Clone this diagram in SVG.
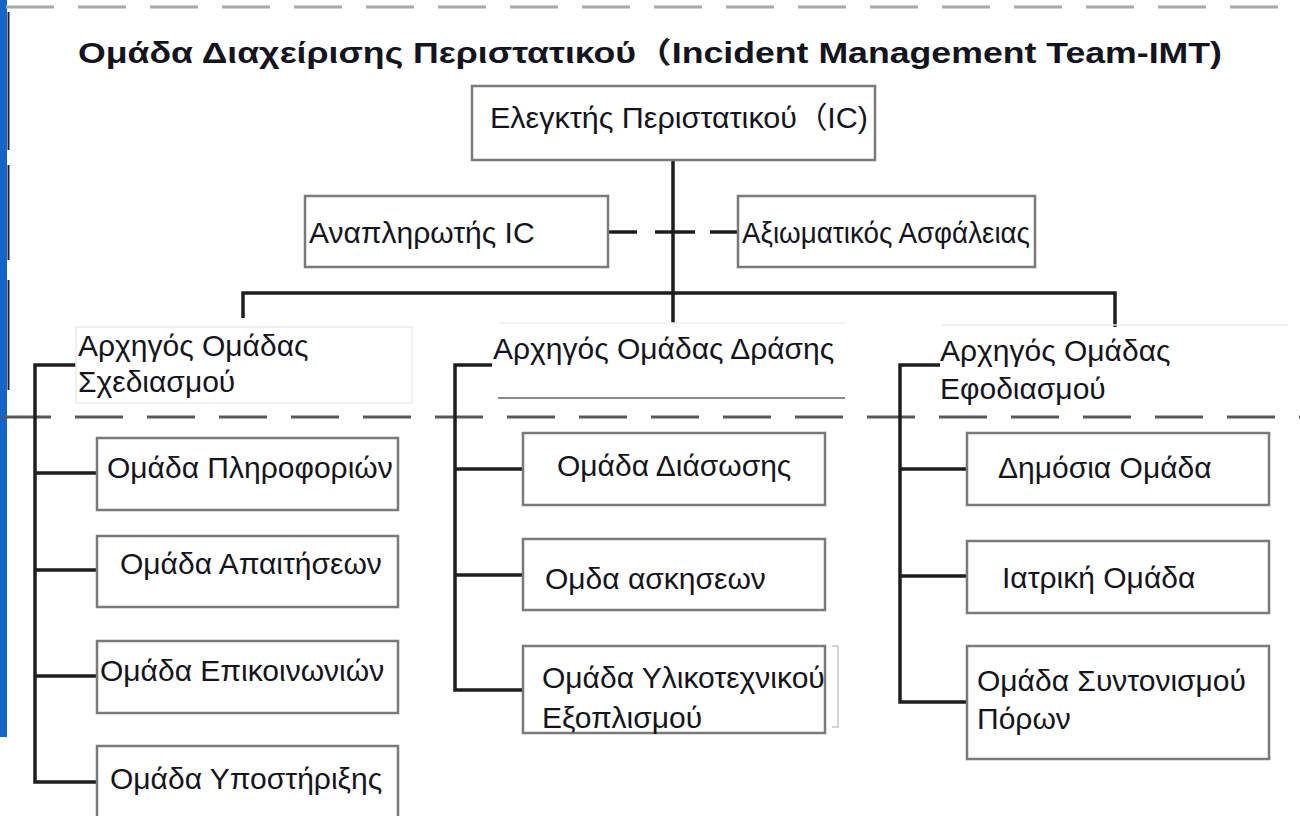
<svg xmlns="http://www.w3.org/2000/svg" width="1300" height="816" viewBox="0 0 1300 816">
<style>
.t{font-family:"Liberation Sans","Noto Sans CJK SC",Arial,sans-serif;font-size:30px;fill:#141420}
.title{font-weight:bold;font-size:29px}
.box{fill:#fff;stroke:#7a7a7a;stroke-width:2.5}
.faint{fill:#fff;stroke:#ececec;stroke-width:1.5}
.c{fill:none;stroke:#1e1e1e;stroke-width:3.5}
.dash{fill:none;stroke-width:3;stroke-dasharray:48 24}
</style>
<rect x="0" y="0" width="1300" height="816" fill="#fff"/>
<!-- left border -->
<rect x="0" y="0" width="7" height="737" fill="#1565c8"/>
<path d="M8.5 12V150M8.5 165V260M8.5 280V390" stroke="#222" stroke-width="2"/>
<!-- dashed separators -->
<line class="dash" x1="6" y1="7" x2="1300" y2="7" stroke="#a8a8a8"/>
<line class="dash" x1="3" y1="417" x2="1300" y2="417" stroke="#585858"/>
<!-- title -->
<text id="title" class="t title" x="78" y="63" textLength="1144" lengthAdjust="spacingAndGlyphs">Ομάδα Διαχείρισης Περιστατικού（Incident Management Team-IMT)</text>

<g id="connectors">
<path class="c" d="M673 160V323"/>
<path class="c" d="M243 318V293H1115V327"/>
<path class="c" d="M607 232H738" stroke-dasharray="30 18 40 15 28 0"/>
<path class="c" d="M76 365H35V782H97M35 473H97M35 570H97M35 676H97"/>
<path class="c" d="M492 365H455V690H523M455 469H523M455 575H523"/>
<path class="c" d="M940 365H900V702H967M900 469H967M900 576H967"/>
</g>

<g id="ic"><rect class="box" x="472" y="86" width="403" height="74"/><text class="t" x="490" y="128" textLength="378" lengthAdjust="spacingAndGlyphs">Ελεγκτής Περιστατικού（IC)</text></g>
<g id="deputy"><rect class="box" x="305" y="196" width="303" height="71"/><text class="t" x="309" y="243">Αναπληρωτής IC</text></g>
<g id="safety"><rect class="box" x="738" y="196" width="297" height="71"/><text class="t" x="742" y="243" textLength="288" lengthAdjust="spacingAndGlyphs">Αξιωματικός Ασφάλειας</text></g>

<g id="planning"><rect class="faint" x="76" y="327" width="336" height="76"/><text class="t" x="78" y="356">Αρχηγός Ομάδας</text><text class="t" x="78" y="392">Σχεδιασμού</text></g>
<g id="operations"><path d="M500 323H845" stroke="#efefef" stroke-width="1.5"/><path d="M498 398H845" stroke="#8a8a8a" stroke-width="2"/><text class="t" x="493" y="359">Αρχηγός Ομάδας Δράσης</text></g>
<g id="logistics"><path d="M942 325H1288" stroke="#e8e8e8" stroke-width="1.5"/><text class="t" x="940" y="361">Αρχηγός Ομάδας</text><text class="t" x="940" y="399">Εφοδιασμού</text></g>

<g id="info"><rect class="box" x="97" y="438" width="301" height="72"/><text class="t" x="107" y="478">Ομάδα Πληροφοριών</text></g>
<g id="requirements"><rect class="box" x="97" y="536" width="301" height="71"/><text class="t" x="120" y="574">Ομάδα Απαιτήσεων</text></g>
<g id="comms"><rect class="box" x="97" y="641" width="301" height="72"/><text class="t" x="100" y="681">Ομάδα Επικοινωνιών</text></g>
<g id="support"><rect class="box" x="97" y="746" width="301" height="90"/><text class="t" x="110" y="789">Ομάδα Υποστήριξης</text></g>

<g id="rescue"><rect class="box" x="523" y="433" width="302" height="72"/><text class="t" x="557" y="476">Ομάδα Διάσωσης</text></g>
<g id="exercises"><rect class="box" x="523" y="539" width="302" height="71"/><text class="t" x="545" y="589">Ομδα ασκησεων</text></g>
<g id="logistic-equip"><rect class="box" x="523" y="646" width="302" height="87"/><path d="M832 646H838V727H832" fill="none" stroke="#c8c8c8" stroke-width="1.5"/><text class="t" x="542" y="688">Ομάδα Υλικοτεχνικού</text><text class="t" x="542" y="728">Εξοπλισμού</text></g>

<g id="public"><rect class="box" x="967" y="433" width="302" height="72"/><text class="t" x="998" y="478">Δημόσια Ομάδα</text></g>
<g id="medical"><rect class="box" x="967" y="541" width="302" height="72"/><text class="t" x="1002" y="588">Ιατρική Ομάδα</text></g>
<g id="resources"><rect class="box" x="967" y="646" width="302" height="113"/><text class="t" x="977" y="691">Ομάδα Συντονισμού</text><text class="t" x="977" y="729">Πόρων</text></g>
</svg>
